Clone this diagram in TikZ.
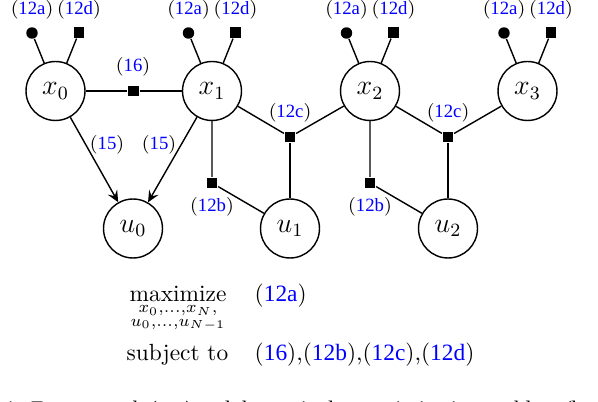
\documentclass[tikz,border=0pt]{standalone}
\usepackage{amsmath}
\usepackage{fontspec}
\newfontfamily\lserif{Liberation Serif}
\usetikzlibrary{arrows.meta}
\definecolor{refblue}{RGB}{0,0,255}
\newcommand{\rf}[1]{({\lserif\color{refblue}#1})}
\begin{document}
\begin{tikzpicture}[x=0.4274pt,y=-0.4274pt, line width=0.6pt,
  var/.style={circle,draw,minimum size=25.2pt,inner sep=0pt,font=\fontsize{11.5}{13}\selectfont},
  fsq/.style={fill=black,minimum size=4.6pt,inner sep=0pt},
  fdot/.style={circle,fill=black,minimum size=4.9pt,inner sep=0pt},
  lbl/.style={inner sep=0pt,font=\fontsize{8}{10}\selectfont},
  arr/.style={-{Stealth[length=5pt,width=4.6pt,inset=2pt]}}]
\useasboundingbox (0,0) rectangle (598,402);
\clip (0,0) rectangle (598,402);
% variable nodes
\node[var] (x0) at (55.5,91) {$x_0$};
\node[var] (x1) at (212,91) {$x_1$};
\node[var] (x2) at (370,91) {$x_2$};
\node[var] (x3) at (527.5,91) {$x_3$};
\node[var] (u0) at (133,228.5) {$u_0$};
\node[var] (u1) at (290,228.5) {$u_1$};
\node[var] (u2) at (448,228.5) {$u_2$};
% factor nodes
\node[fsq] (f16) at (133.5,91) {};
\node[fsq] (fc1) at (290,137) {};
\node[fsq] (fc2) at (448,137) {};
\node[fsq] (fb1) at (212,183) {};
\node[fsq] (fb2) at (370,183) {};
% top factors
\foreach \i/\cx in {0/55.5,1/212,2/370,3/527.5}{
  \node[fdot] (d\i) at (\cx-23.5,33) {};
  \node[fsq] (s\i) at (\cx+23.5,32.5) {};
  \node[lbl] (la\i) at (\cx-23.5,10) {\rf{12a}};
  \node[lbl] (ld\i) at (\cx+23.5,10) {\rf{12d}};
  \draw (d\i) -- (x\i);
  \draw (s\i) -- (x\i);
}
% labels
\node[lbl] (l16) at (133,67) {\rf{16}};
\node[lbl] (lc1) at (290,113) {\rf{12c}};
\node[lbl] (lc2) at (448,113) {\rf{12c}};
\node[lbl] (lb1) at (212,207) {\rf{12b}};
\node[lbl] (lb2) at (370,207) {\rf{12b}};
\node[lbl] (l15a) at (107,145) {\rf{15}};
\node[lbl] (l15b) at (159,145) {\rf{15}};
% edges
\draw (x0) -- (f16) -- (x1);
\draw (x1) -- (fc1) -- (x2);
\draw (fc1) -- (u1);
\draw (x2) -- (fc2) -- (x3);
\draw (fc2) -- (u2);
\draw (x1) -- (fb1) -- (u1);
\draw (x2) -- (fb2) -- (u2);
\draw[arr] (x0) -- (u0);
\draw[arr] (x1) -- (u0);
% optimization problem
\node[anchor=base, inner sep=0pt] (maxi) at (178,301.7) {$\displaystyle\mathop{\mathrm{maximize}}_{\substack{x_0,\dots,x_N,\\ u_0,\dots,u_{N-1}}}$};
\node[anchor=base west, inner sep=0pt] (obj) at (254,301.7) {\rf{12a}};
\node[anchor=base, inner sep=0pt] (st) at (177.5,360.5) {subject to};
\node[anchor=base west, inner sep=0pt] (cons) at (254,360.5) {\rf{16},\rf{12b},\rf{12c},\rf{12d}};
% caption (cut off at the lower edge)
\node[anchor=base west, inner sep=0pt, font=\lserif\fontsize{9.5}{11}\selectfont] (cap) at (2,416.5) {4:\enspace Factor graph (top) and the equivalent optimization problem (bottom)};
\end{tikzpicture}
\end{document}
